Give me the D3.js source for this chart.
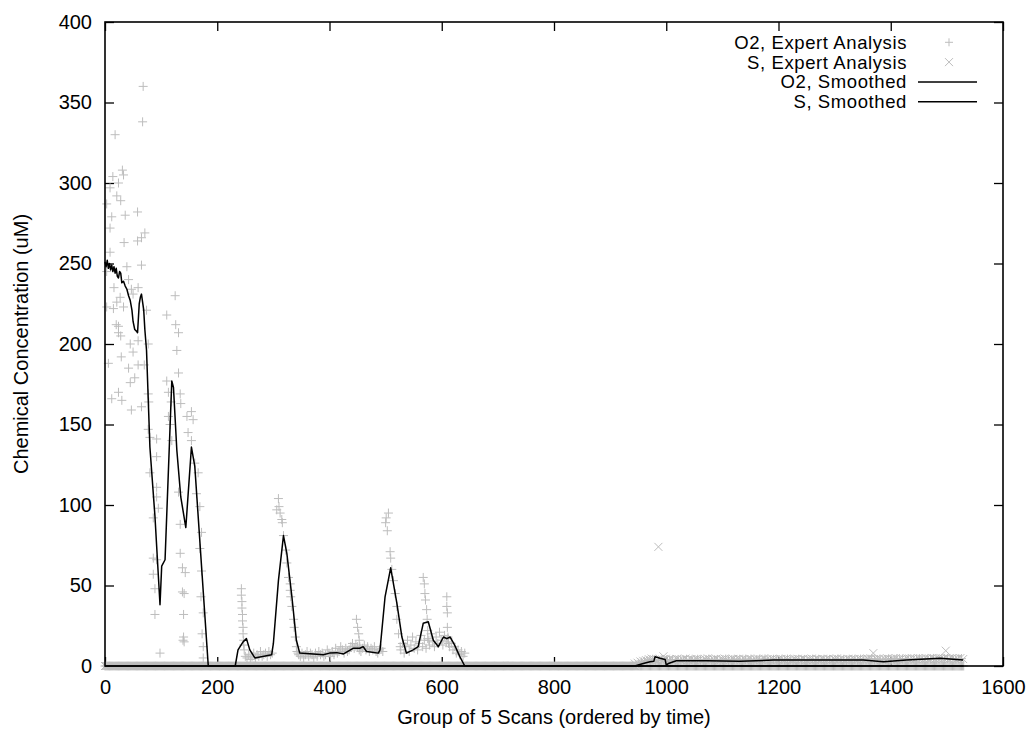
<!DOCTYPE html>
<html>
<head>
<meta charset="utf-8">
<script src="https://cdn.jsdelivr.net/npm/d3@7"></script>
<style>
  html, body { margin: 0; padding: 0; background: #ffffff; }
  svg text { font-family: "Liberation Sans", Arial, Helvetica, sans-serif; fill: #000; }
</style>
</head>
<body>
<svg id="chart" width="1032" height="731"></svg>
<script>
// ---------------- DATA ----------------
const xTicks = [0, 200, 400, 600, 800, 1000, 1200, 1400, 1600];
const yTicks = [0, 50, 100, 150, 200, 250, 300, 350, 400];
const legendLabels = ["O2, Expert Analysis", "S, Expert Analysis", "O2, Smoothed", "S, Smoothed"];
const xTitle = "Group of 5 Scans (ordered by time)";
const yTitle = "Chemical Concentration (uM)";

// O2 expert analysis: scattered readings [x, y]
const o2Scatter = [
  [68,360],[67,338],[18,330],[31,308],[33,305],[14,304],[24,300],[9,297],[21,292],
  [28,289],[3,287],[12,279],[36,280],[58,282],[9,272],[71,269],[65,266],[58,264],[34,263],
  [9,257],[65,249],[39,248],[3,245],[42,240],[16,235],[47,234],[59,235],[125,230],[27,229],
  [21,226],[50,231],[3,223],[15,222],[33,223],[74,221],[110,218],[20,212],[24,211],[126,212],
  [131,207],[28,205],[24,207],[45,200],[50,195],[77,200],[59,202],[128,196],[29,192],
  [6,188],[42,185],[59,187],[70,187],[53,179],[45,176],[24,170],[12,166],[30,165],[47,159],
  [65,161],[131,182],[110,177],[113,170],[134,169],[118,164],[135,163],[77,169],[78,164],
  [154,158],[146,155],[157,153],[113,155],[116,150],[119,140],[148,145],[154,140],[160,126],
  [166,120],[163,107],[169,99],[77,147],[80,142],[92,141],[92,130],[80,120],[92,111],[92,105],
  [95,98],[86,92],[131,108],[134,88],[172,83],[169,73],[86,67],[92,66],[86,57],[89,48],
  [134,70],[138,61],[143,58],[138,46],[141,45],[172,59],[171,43],[89,32],[140,32],[140,18],
  [141,15],[173,20],[175,12],[98,8],[175,5],[175,33],[139,16],
  // bump near 245
  [243,48],[243,44],[244,40],[244,36],[245,32],[245,28],[246,24],[246,20],[247,16],[247,13],[248,10],
  // peak near 310
  [306,97],[309,104],[310,99],[312,95],[315,91],[316,89],[318,81],[322,72],[324,64],[327,55],
  [330,51],[330,47],[331,43],[333,37],[336,29],[337,24],[339,18],[341,12],[344,8],
  // cluster near 450
  [448,29],[450,24],[452,20],[453,16],[454,12],
  // peak near 505
  [505,95],[501,92],[500,89],[503,84],[508,71],[509,67],[511,60],[514,53],[517,45],[520,37],
  [520,29],[523,20],[526,12],
  // peak near 570
  [567,55],[569,51],[570,45],[571,41],[573,35],[574,29],[575,22],[577,16],
  // peak near 610
  [609,43],[609,37],[610,33],[610,24],[611,18],[612,14]
];

// O2 expert analysis: low-level readings at regular intervals
const o2Base1Start = 250, o2Base1Step = 3;
const o2Base1 = [6,5,7,4,6,8,5,7,6,9,6,7,8,6,9,7,8];
const o2Base2Start = 342, o2Base2Step = 3;
const o2Base2 = [9,7,6,8,5,7,9,6,8,7, 5,8,6,9,7,8,6,7,10,8, 6,9,7,11,8,9,12,10,8,11,
                 9,10,12,14,11,13,12,10,9,11, 13,10,12,9,11,10,12,9,8,10, 11,9];
const o2Base3Start = 527, o2Base3Step = 3;
const o2Base3 = [10,14,8,12,16,9,13,18,11,15, 10,14,19,12,16,11,17,13,20,15,
                 12,18,14,21,16,13,19,15,17,12, 14,10,12,8,10,7,9,6,8];
// O2 readings of zero span this range of groups
const o2ZeroRange = [0, 1530];
// O2 low readings in the late period
const o2LateStart = 946, o2LateStep = 5;
const o2Late = [1.0,1.8,2.4,3.0,3.4,3.9,4.2,3.6,3.2,3.8,
                3.5,4.0,3.6,3.9,3.3,4.1,3.6,3.8,4.2,3.4,
                3.9,3.5,4.2,3.7,3.3,4.0,4.3,3.6,3.8,4.1,
                3.4,3.9,4.3,3.7,3.5,4.1,3.8,4.2,3.6,4.0,
                3.7,4.3,3.5,3.9,4.1,3.6,4.4,3.8,3.5,4.2,
                3.9,3.6,4.1,3.7,4.3,3.8,3.4,4.0,4.2,3.7,
                4.1,3.5,3.9,4.3,3.7,4.0,3.6,4.2,3.8,4.1,
                3.6,4.0,4.4,3.7,3.9,3.5,4.2,3.8,4.1,3.6,
                4.3,3.9,3.7,4.2,4.5,3.8,4.0,4.3,3.7,4.1,
                4.4,3.9,4.2,4.6,4.0,4.3,3.8,4.5,4.1,4.4,
                4.0,4.6,4.3,3.9,4.5,4.2,4.7,4.1,4.4,4.6,
                4.3,4.7,4.1,4.5,4.2,4.4,4.6];

// S expert analysis
const sZeroRange = [0, 944];
const sBandStart = 944, sBandStep = 5;
const sBand = [1.5,2.0,2.8,3.2,3.6,4.2,4.6,4.0,3.5,4.3,
               3.8,4.5,3.9,4.2,3.6,4.4,3.9,4.1,4.6,3.7,
               4.2,3.8,4.5,4.0,3.6,4.3,4.7,3.9,4.1,4.4,
               3.7,4.2,4.6,4.0,3.8,4.4,4.1,4.5,3.9,4.3,
               4.0,4.6,3.8,4.2,4.4,3.9,4.7,4.1,3.8,4.5,
               4.2,3.9,4.4,4.0,4.6,4.1,3.7,4.3,4.5,4.0,
               4.4,3.8,4.2,4.6,4.0,4.3,3.9,4.5,4.1,4.4,
               3.9,4.3,4.7,4.0,4.2,3.8,4.5,4.1,4.4,3.9,
               4.6,4.2,4.0,4.5,4.8,4.1,4.3,4.6,4.0,4.4,
               4.7,4.2,4.5,4.9,4.3,4.6,4.1,4.8,4.4,4.7,
               4.3,4.9,4.6,4.2,4.8,4.5,5.0,4.4,4.7,4.9,
               4.6,5.0,4.4,4.8,4.5,4.7,4.9,4.3];
const sOutliers = [[986,74],[995,6],[1369,8],[1498,9.5]];

// Smoothed curves [x, y]
const o2Smooth = [
  [0,251],[2,248],[4,252],[6,247],[8,250],[10,246],[12,249],[14,245],[16,248],[18,244],
  [20,247],[22,242],[24,241],[26,245],[28,244],[30,238],[33,239],[36,236],[39,234],[42,230],
  [45,227],[48,221],[50,214],[53,209],[56,208],[58,207],[61,225],[63,229],[65,231],[67,226],
  [69,221],[71,209],[74,196],[80,136],[89,93],[98,38],[101,62],[107,66],[119,177],[122,173],
  [128,134],[135,105],[144,86],[154,136],[160,124],[184,0],[229,0],[232,0],[237,10],[246,15],
  [252,17],[258,10],[267,5],[297,7],[300,14],[309,53],[318,81],[324,70],[333,43],[341,16],
  [347,8],[371,7.5],[389,7],[400,8],[413,8.3],[425,7.5],[442,11],[454,11],[460,12],[466,9],
  [487,8],[490,10],[499,43],[509,61],[520,39],[529,18],[537,8],[549,10],[558,12],[567,26.5],
  [576,27.5],[585,16],[594,12],[603,18],[609,17],[615,18],[623,13],[632,6],[641,0],[1530,0]
];
const sSmooth = [
  [0,0],[944,0],[959,1.6],[971,2.7],[978,3.0],[980,5.8],[989,4.8],[998,4.1],[1000,0.6],
  [1004,1.6],[1010,2.3],[1018,3.3],[1072,3.3],[1131,2.9],[1191,3.7],[1250,3.7],[1309,3.7],
  [1351,3.7],[1387,2.7],[1428,3.7],[1488,4.8],[1529,3.7]
];

// ---------------- CHART ----------------
const plot = { left: 105, right: 1003, top: 22, bottom: 666 };
const FONT = 20;
const LEGEND_FONT = 18.5;
const GREY = "#bdbdbd";

const svg = d3.select("#chart");
const x = d3.scaleLinear().domain([0, 1600]).range([plot.left, plot.right]);
const y = d3.scaleLinear().domain([0, 400]).range([plot.bottom, plot.top]);

// ticks (behind data), inward, mirrored
const tick = 9;
const gB = svg.append("g").attr("transform", `translate(0,${plot.bottom})`)
  .call(d3.axisBottom(x).tickValues(xTicks).tickFormat(d3.format("d")).tickSizeInner(-tick).tickSizeOuter(0).tickPadding(14));
const gT = svg.append("g").attr("transform", `translate(0,${plot.top})`)
  .call(d3.axisTop(x).tickValues(xTicks).tickFormat("").tickSizeInner(-tick).tickSizeOuter(0));
const gL = svg.append("g").attr("transform", `translate(${plot.left},0)`)
  .call(d3.axisLeft(y).tickValues(yTicks).tickFormat(d3.format("d")).tickSizeInner(-tick).tickSizeOuter(0).tickPadding(13));
const gR = svg.append("g").attr("transform", `translate(${plot.right},0)`)
  .call(d3.axisRight(y).tickValues(yTicks).tickFormat("").tickSizeInner(-tick).tickSizeOuter(0));
[gB, gT, gL, gR].forEach(g => {
  g.select(".domain").remove();
  g.selectAll("line").attr("stroke", "#000").attr("stroke-width", 1.3);
  g.selectAll("text").attr("font-size", FONT).attr("font-family", "Liberation Sans, Arial, sans-serif").attr("fill", "#000");
});

// expand data into points
const o2Points = [];
for (let i = o2ZeroRange[0]; i <= o2ZeroRange[1]; i += 2) o2Points.push([i, 0]);
o2Base1.forEach((v, i) => o2Points.push([o2Base1Start + i * o2Base1Step, v]));
o2Base2.forEach((v, i) => o2Points.push([o2Base2Start + i * o2Base2Step, v]));
o2Base3.forEach((v, i) => o2Points.push([o2Base3Start + i * o2Base3Step, v]));
o2Late.forEach((v, i) => o2Points.push([o2LateStart + i * o2LateStep, v]));
o2Scatter.forEach(p => o2Points.push(p));

const sPoints = [];
for (let i = sZeroRange[0]; i <= sZeroRange[1]; i += 2) sPoints.push([i, 0]);
sBand.forEach((v, i) => sPoints.push([sBandStart + i * sBandStep, v]));
sOutliers.forEach(p => sPoints.push(p));

const plusPath = (cx, cy, r) => `M${cx - r},${cy}H${cx + r}M${cx},${cy - r}V${cy + r}`;
const crossPath = (cx, cy, r) => `M${cx - r},${cy - r}L${cx + r},${cy + r}M${cx - r},${cy + r}L${cx + r},${cy - r}`;

svg.append("path")
  .attr("d", o2Points.map(d => plusPath(x(d[0]), y(d[1]), 4.5)).join(""))
  .attr("stroke", GREY).attr("stroke-width", 1).attr("fill", "none");
svg.append("path")
  .attr("d", sPoints.map(d => crossPath(x(d[0]), y(d[1]), 4)).join(""))
  .attr("stroke", GREY).attr("stroke-width", 1).attr("fill", "none");

const line = d3.line().x(d => x(d[0])).y(d => y(d[1]));
svg.append("path").datum(o2Smooth).attr("d", line)
  .attr("fill", "none").attr("stroke", "#000").attr("stroke-width", 1.5).attr("stroke-linejoin", "round");
svg.append("path").datum(sSmooth).attr("d", line)
  .attr("fill", "none").attr("stroke", "#000").attr("stroke-width", 1.5).attr("stroke-linejoin", "round");

// border
svg.append("rect")
  .attr("x", plot.left).attr("y", plot.top)
  .attr("width", plot.right - plot.left).attr("height", plot.bottom - plot.top)
  .attr("fill", "none").attr("stroke", "#000").attr("stroke-width", 1.6);

// axis titles
svg.append("text").attr("x", (plot.left + plot.right) / 2).attr("y", 717).attr("dy", "0.35em")
  .attr("text-anchor", "middle").attr("font-size", FONT).text(xTitle);
svg.append("text").attr("transform", `translate(21,${(plot.top + plot.bottom) / 2}) rotate(-90)`)
  .attr("dy", "0.35em").attr("text-anchor", "middle").attr("font-size", FONT).text(yTitle);

// legend
const legX = 907, legY0 = 42.3, legDy = 19.8;
const leg = svg.append("g");
legendLabels.forEach((lab, i) => {
  const cy = legY0 + i * legDy;
  leg.append("text").attr("x", legX).attr("y", cy).attr("dy", "0.35em")
    .attr("text-anchor", "end").attr("font-size", LEGEND_FONT)
    .attr("letter-spacing", "0.6px").text(lab);
  if (i === 0) {
    leg.append("path").attr("d", plusPath(949, cy, 4)).attr("stroke", GREY).attr("fill", "none");
  } else if (i === 1) {
    leg.append("path").attr("d", crossPath(949, cy, 4)).attr("stroke", GREY).attr("fill", "none");
  } else {
    leg.append("line").attr("x1", 918).attr("x2", 977).attr("y1", cy).attr("y2", cy)
      .attr("stroke", "#000").attr("stroke-width", 1.5);
  }
});
</script>
</body>
</html>
